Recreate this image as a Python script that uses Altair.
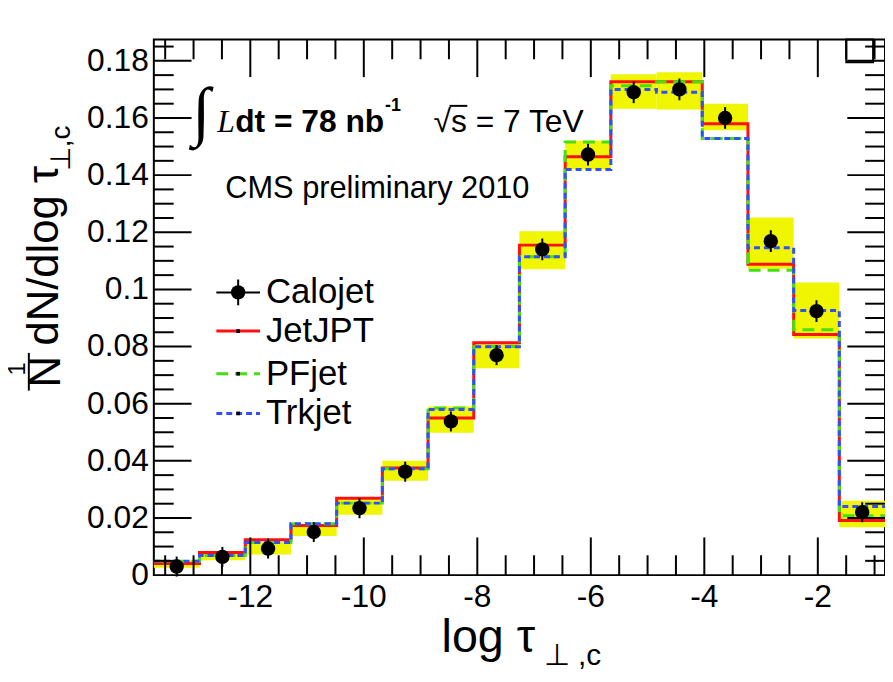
import altair as alt
import pandas as pd

FONT = "Liberation Sans"
W, H = 737, 540
X_MIN, X_MAX = -13.7, -0.816
Y_MIN, Y_MAX = 0.0, 0.1875

# bin edges of log(tau_perp,c)
edges = [-13.700, -12.895, -12.089, -11.284, -10.479, -9.673, -8.868, -8.063,
         -7.258, -6.452, -5.647, -4.842, -4.036, -3.231, -2.426, -1.621, -0.816]

calojet = [0.0030, 0.0064, 0.0093, 0.0151, 0.0234, 0.0362, 0.0538, 0.0770,
           0.1140, 0.1472, 0.1690, 0.1700, 0.1600, 0.1169, 0.0924, 0.0220]
calojet_err = [0.0035, 0.0035, 0.0035, 0.0035, 0.0035, 0.0035, 0.0035, 0.0035,
               0.0038, 0.0038, 0.0038, 0.0038, 0.0038, 0.0038, 0.0038, 0.0035]
jetjpt = [0.0041, 0.0079, 0.0124, 0.0174, 0.0269, 0.0375, 0.0550, 0.0813,
          0.1155, 0.1464, 0.1727, 0.1727, 0.1580, 0.1088, 0.0842, 0.0191]
pfjet = [0.0049, 0.0069, 0.0114, 0.0180, 0.0252, 0.0372, 0.0585, 0.0800,
         0.1114, 0.1516, 0.1713, 0.1727, 0.1528, 0.1067, 0.0859, 0.0208]
trkjet = [0.0049, 0.0069, 0.0114, 0.0180, 0.0252, 0.0372, 0.0580, 0.0799,
          0.1114, 0.1420, 0.1700, 0.1690, 0.1528, 0.1146, 0.0926, 0.0240]
band_lo = [0.0026, 0.0052, 0.0072, 0.0137, 0.0211, 0.0330, 0.0498, 0.0724,
           0.1071, 0.1420, 0.1632, 0.1630, 0.1557, 0.1072, 0.0828, 0.0168]
band_hi = [0.0052, 0.0081, 0.0116, 0.0180, 0.0272, 0.0400, 0.0590, 0.0816,
           0.1204, 0.1520, 0.1753, 0.1760, 0.1650, 0.1252, 0.1024, 0.0260]

x_major = [-12, -10, -8, -6, -4, -2]
x_major_labels = ["-12", "-10", "-8", "-6", "-4", "-2"]
x_minor = [-13.5, -13.0, -12.5, -11.5, -11.0, -10.5, -9.5, -9.0, -8.5, -7.5,
           -7.0, -6.5, -5.5, -5.0, -4.5, -3.5, -3.0, -2.5, -1.5, -1.0]
y_labels = [0.0, 0.02, 0.04, 0.06, 0.08, 0.1, 0.12, 0.14, 0.16, 0.18]
y_label_text = ["0", "0.02", "0.04", "0.06", "0.08", "0.1", "0.12", "0.14", "0.16", "0.18"]
y_major = [0.02, 0.04, 0.06, 0.08, 0.1, 0.12, 0.14, 0.16, 0.18]
y_minor = [0.005, 0.01, 0.015, 0.025, 0.03, 0.035, 0.045, 0.05, 0.055, 0.065,
           0.07, 0.075, 0.085, 0.09, 0.095, 0.105, 0.11, 0.115, 0.125, 0.13,
           0.135, 0.145, 0.15, 0.155, 0.165, 0.17, 0.175, 0.185]

legend_names = ["Calojet", "JetJPT", "PFjet", "Trkjet"]

xs = alt.Scale(domain=[X_MIN, X_MAX], nice=False, zero=False)
ys = alt.Scale(domain=[Y_MIN, Y_MAX], nice=False, zero=False)

bins = pd.DataFrame({
    "lo": edges[:-1], "hi": edges[1:],
    "c": [(a + b) / 2 for a, b in zip(edges[:-1], edges[1:])],
    "calo": calojet, "err_lo": [v - e for v, e in zip(calojet, calojet_err)],
    "err_hi": [v + e for v, e in zip(calojet, calojet_err)],
    "blo": band_lo, "bhi": band_hi,
})

band = alt.Chart(bins).mark_rect(color="#f0f500", opacity=1).encode(
    x=alt.X("lo:Q", scale=xs, axis=None), x2="hi:Q",
    y=alt.Y("blo:Q", scale=ys, axis=None), y2="bhi:Q",
)


def step(vals, color, dash=None):
    df = pd.DataFrame({"x": edges, "y": vals + [vals[-1]]})
    kw = dict(interpolate="step-after", color=color, strokeWidth=3, clip=True)
    if dash:
        kw["strokeDash"] = dash
    return alt.Chart(df).mark_line(**kw).encode(
        x=alt.X("x:Q", scale=xs, axis=None), y=alt.Y("y:Q", scale=ys, axis=None))


red = step(jetjpt, "#ff1010")
green = step(pfjet, "#44e010", [12, 7])
blue = step(trkjet, "#3050ff", [6, 4])

errs = alt.Chart(bins).mark_rule(color="black", strokeWidth=2).encode(
    x=alt.X("c:Q", scale=xs, axis=None), y=alt.Y("err_lo:Q", scale=ys, axis=None), y2="err_hi:Q")
pts = alt.Chart(bins).mark_circle(color="black", opacity=1, size=210).encode(
    x=alt.X("c:Q", scale=xs, axis=None), y=alt.Y("calo:Q", scale=ys, axis=None))


def xticks(vals, length):
    d = pd.DataFrame({"v": vals})
    b = alt.Chart(d).mark_rule(color="black", strokeWidth=2).encode(
        x=alt.X("v:Q", scale=xs, axis=None), y=alt.value(H), y2=alt.value(H - length))
    t = alt.Chart(d).mark_rule(color="black", strokeWidth=2).encode(
        x=alt.X("v:Q", scale=xs, axis=None), y=alt.value(0), y2=alt.value(length))
    return [b, t]


def yticks(vals, length):
    d = pd.DataFrame({"v": vals})
    l = alt.Chart(d).mark_rule(color="black", strokeWidth=2).encode(
        y=alt.Y("v:Q", scale=ys, axis=None), x=alt.value(0), x2=alt.value(length))
    r = alt.Chart(d).mark_rule(color="black", strokeWidth=2).encode(
        y=alt.Y("v:Q", scale=ys, axis=None), x=alt.value(W), x2=alt.value(W - length))
    return [l, r]


# tick labels
xlab = alt.Chart(pd.DataFrame({"v": x_major, "t": x_major_labels})).mark_text(
    font=FONT, fontSize=32, baseline="top", align="center", color="black").encode(
    x=alt.X("v:Q", scale=xs, axis=None), y=alt.value(H + 7), text="t:N")
ylab = alt.Chart(pd.DataFrame({"v": y_labels, "t": y_label_text})).mark_text(
    font=FONT, fontSize=32, baseline="middle", align="right", color="black").encode(
    y=alt.Y("v:Q", scale=ys, axis=None), x=alt.value(-5), text="t:N")


def txt(s, x, y, size, align="left", baseline="alphabetic", font=FONT, angle=0, **kw):
    props = dict(fontSize=size, font=font, align=align, baseline=baseline, color="black")
    if angle:
        props["angle"] = angle
    props.update(kw)
    return alt.Chart(pd.DataFrame({"t": [s]})).mark_text(**props).encode(
        x=alt.value(x), y=alt.value(y), text="t:N")


def hline(x1, x2, y, color, width=2, dash=None):
    props = dict(color=color, strokeWidth=width)
    if dash:
        props["strokeDash"] = dash
    return alt.Chart(pd.DataFrame({"a": [0]})).mark_rule(**props).encode(
        x=alt.value(x1), x2=alt.value(x2), y=alt.value(y))


def vline(x, y1, y2, color="black", width=2):
    return alt.Chart(pd.DataFrame({"a": [0]})).mark_rule(color=color, strokeWidth=width).encode(
        x=alt.value(x), y=alt.value(y1), y2=alt.value(y2))


def dot(x, y, size, shape="circle"):
    return alt.Chart(pd.DataFrame({"a": [0]})).mark_point(
        filled=True, color="black", opacity=1, size=size, shape=shape).encode(
        x=alt.value(x), y=alt.value(y))


# small box at the top right corner of the frame
corner_box = alt.Chart(pd.DataFrame({"a": [0]})).mark_rect(
    fill="white", fillOpacity=0, stroke="black", strokeWidth=2).encode(
    x=alt.value(698), x2=alt.value(725), y=alt.value(0), y2=alt.value(23))

# legend
ly = [255, 294, 337, 377]
legend = [
    hline(63, 107, ly[0], "black", 2), vline(85, ly[0] - 13, ly[0] + 13), dot(85, ly[0], 210),
    hline(63, 107, ly[1], "#ff1010", 3), dot(85, ly[1], 14, "square"),
    hline(63, 107, ly[2], "#44e010", 3, [12, 7]), dot(85, ly[2], 14, "square"),
    hline(63, 107, ly[3], "#3050ff", 3, [6, 4]), dot(85, ly[3], 14, "square"),
]
for name, yy in zip(legend_names, ly):
    legend.append(txt(name, 113, yy, 35, baseline="middle"))

annot = [
    txt("\u222b", 48, 74, 66, align="center", baseline="middle", font="Liberation Serif"),
    txt("L", 64, 93, 32, font="Liberation Serif", fontStyle="italic"),
    txt("dt = 78 nb", 82, 93, 32, fontWeight="bold"),
    txt("-1", 233, 72, 18, fontWeight="bold"),
    txt("\u221as = 7 TeV", 282, 93, 32),
    hline(298, 316, 67, "black", 2),
    txt("CMS preliminary 2010", 72, 160, 31),
    # x title
    txt("log \u03c4", 290, 617, 47),
    txt("\u22a5 ,c", 393, 631, 30),
    # y title
    txt("dN/dlog \u03c4", -110, 218, 44, align="center", baseline="middle", angle=270),
    txt("\u22a5,c", -93, 110, 28, align="center", baseline="middle", angle=270),
    txt("N", -108, 335, 44, align="center", baseline="middle", angle=270),
    txt("1", -137, 332, 24, align="center", baseline="middle", angle=270),
    vline(-126, 316, 354, "black", 2),
]

layers = [band, red, green, blue, errs, pts, xlab, ylab, corner_box]
layers += xticks(x_major, 38) + xticks(x_minor, 20)
layers += yticks(y_major, 38) + yticks(y_minor, 20)
layers += legend + annot

chart = alt.layer(*layers).properties(
    width=W, height=H,
    autosize=alt.AutoSizeParams(type="none"),
    padding={"left": 147, "top": 29, "right": 0, "bottom": 97},
    background="white",
).configure_view(stroke="black", strokeWidth=2)

chart.save("out.html", embed_options={"renderer": "svg", "actions": False})
